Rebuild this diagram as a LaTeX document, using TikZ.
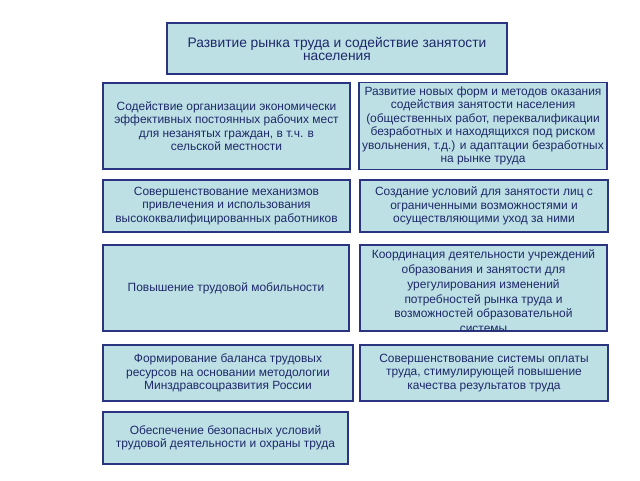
\documentclass[tikz,border=0pt]{standalone}
\usepackage{fontspec}
\setmainfont{Liberation Sans}
\usepackage{xcolor}
\usepackage{tikz}
\definecolor{boxfill}{RGB}{188,224,228}
\definecolor{boxline}{RGB}{43,52,128}
\definecolor{boxtext}{RGB}{30,40,105}

\begin{document}
\begin{tikzpicture}[
  box/.style={shape=rectangle,draw=boxline,fill=boxfill,line width=1pt,
    text=boxtext,align=center,inner sep=1pt,font=\fontsize{8.5}{9.6}\selectfont},
  title/.style={box,font=\fontsize{9.8}{9.3}\selectfont}]
\useasboundingbox (0,0) rectangle (16,-12);
\node[title,minimum width=8.5cm,minimum height=1.275cm] (T) at (8.425,-1.2125) {Развитие рынка труда и содействие занятости\\населения};
\node[box,minimum width=6.175cm,minimum height=2.15cm] (L1) at (5.6625,-3.15) {Содействие организации экономически\\эффективных постоянных рабочих мест\\для незанятых граждан, в т.ч. в\\сельской местности};
\node[box,minimum width=6.2cm,minimum height=2.175cm] (R1) at (12.075,-3.15) {Развитие новых форм и методов оказания\\содействия занятости населения\\(общественных работ, переквалификации\\безработных и находящихся под риском\\увольнения, т.д.) и адаптации безработных\\на рынке труда};
\node[box,minimum width=6.175cm,minimum height=1.3cm] (L2) at (5.6625,-5.15) {Совершенствование механизмов\\привлечения и использования\\высококвалифицированных работников};
\node[box,minimum width=6.2cm,minimum height=1.3cm] (R2) at (12.1,-5.15) {Создание условий для занятости лиц с\\ограниченными возможностями и\\осуществляющими уход за ними};
\node[box,minimum width=6.15cm,minimum height=2.15cm] (L3) at (5.65,-7.2) {Повышение трудовой мобильности};
\node[box,minimum width=6.175cm,minimum height=2.15cm] (R3) at (12.0875,-7.2) {};
% text runs past the bottom edge, cut there
\begin{scope}
\clip (R3.south west) rectangle (R3.north east);
\node[box,draw=none,fill=none,anchor=north,font=\fontsize{8.5}{10.5}\selectfont] (R3t) at ([yshift=-2.5pt]R3.north) {Координация деятельности учреждений\\образования и занятости для\\урегулирования изменений\\потребностей рынка труда и\\возможностей образовательной\\системы};
\end{scope}
\draw[boxline,line width=1pt] (R3.south west) rectangle (R3.north east);
\node[box,minimum width=6.25cm,minimum height=1.4cm] (L4) at (5.7,-9.325) {Формирование баланса трудовых\\ресурсов на основании методологии\\Минздравсоцразвития России};
\node[box,minimum width=6.2cm,minimum height=1.4cm] (R4) at (12.1,-9.325) {Совершенствование системы оплаты\\труда, стимулирующей повышение\\качества результатов труда};
\node[box,minimum width=6.125cm,minimum height=1.3cm] (L5) at (5.6375,-10.95) {Обеспечение безопасных условий\\трудовой деятельности и охраны труда};
\end{tikzpicture}
\end{document}
